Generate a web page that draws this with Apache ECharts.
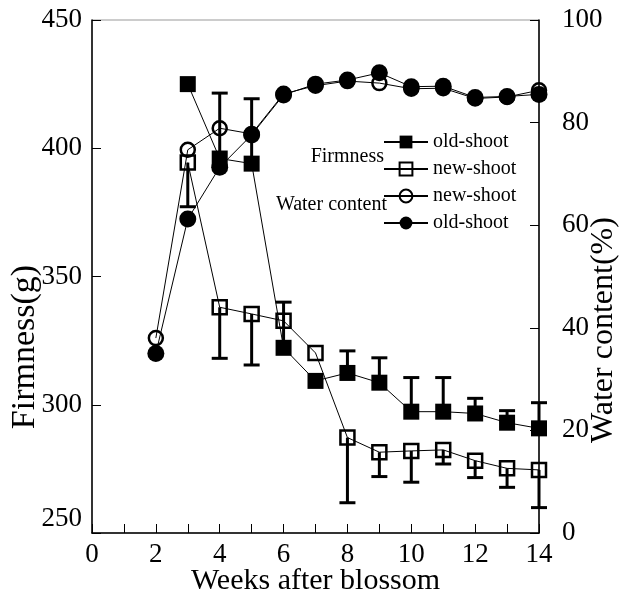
<!DOCTYPE html>
<html><head><meta charset="utf-8">
<script src="https://cdn.jsdelivr.net/npm/echarts@6/dist/echarts.min.js"></script>
<style>html,body{margin:0;padding:0;background:#fff}#c{width:624px;height:596px}</style>
</head><body><div id="c"></div>
<script>
// ---- data ----
const waterWeeks = [2, 3, 4, 5, 6, 7, 8, 9, 10, 11, 12, 13, 14];
const firmWeeks = [3, 4, 5, 6, 7, 8, 9, 10, 11, 12, 13, 14];
const firmOld = [425, 396, 394, 322.2, 309.3, 312.4, 308.6, 297.3, 297.3, 296.6, 293, 290.8];
const firmOldUpper = [null, 421.5, 419.3, 340, null, 321, 318.3, 310.6, 310.6, 302.5, 297.7, 300.8];
const firmNew = [394.4, 338, 335.4, 332.7, 320.2, 287.2, 281.5, 282, 282.4, 278.2, 275.2, 274.6];
const firmNewLower = [377.2, 318.1, 315.5, null, null, 261.8, 272, 269.8, 276.9, 271.6, 267.8, 259.9];
const waterNew = [38.0, 74.7, 78.9, 77.8, 85.6, 87.2, 88.1, 87.7, 86.6, 86.7, 84.7, 85.0, 86.3];
const waterOld = [35.0, 61.2, 71.3, 77.6, 85.4, 87.5, 88.3, 89.7, 87.0, 87.1, 84.9, 85.1, 85.5];
const xTicks = [0, 2, 4, 6, 8, 10, 12, 14];
const seriesNames = ['Firmness old-shoot', 'Firmness new-shoot', 'Water content new-shoot', 'Water content old-shoot'];

const FONT = '"Liberation Serif", "Times New Roman", serif';
const chart = echarts.init(document.getElementById('c'), null, {renderer: 'canvas'});

function pairs(xs, ys) { return xs.map((x, i) => [x, ys[i]]); }
function errData(xs, c, e) {
  const out = [];
  xs.forEach((x, i) => { if (e[i] != null) out.push([x, c[i], e[i]]); });
  return out;
}
function errSeries(data, yAxisIndex) {
  return {
    type: 'custom', yAxisIndex: yAxisIndex, data: data, z: 3,
    encode: {x: 0, y: [1, 2]},
    renderItem: function (params, api) {
      const p0 = api.coord([api.value(0), api.value(1)]);
      const p1 = api.coord([api.value(0), api.value(2)]);
      const hw = 8;
      return {type: 'group', children: [
        {type: 'line', shape: {x1: p0[0], y1: p0[1], x2: p1[0], y2: p1[1]}, style: {stroke: '#000', lineWidth: 3}},
        {type: 'line', shape: {x1: p1[0] - hw, y1: p1[1], x2: p1[0] + hw, y2: p1[1]}, style: {stroke: '#000', lineWidth: 3}}
      ]};
    }
  };
}
const hollow = {color: 'rgba(255,255,255,0)', borderColor: '#000', borderWidth: 2.5};
const solid = {color: '#000', borderColor: '#000', borderWidth: 0};
const lineSt = {color: '#000', width: 1};

chart.setOption({
  animation: false,
  backgroundColor: '#fff',
  grid: {left: 92, right: 85, top: 20, bottom: 63, outerBoundsMode: 'none', containLabel: false,
    show: true, borderColor: '#999', borderWidth: 1},
  xAxis: {
    type: 'value', min: 0, max: 14, interval: 1,
    name: 'Weeks after blossom', nameLocation: 'middle', nameGap: 33, nameMoveOverlap: false,
    nameTextStyle: {fontFamily: FONT, fontSize: 30, color: '#000'},
    axisLine: {lineStyle: {color: '#000', width: 1.5}},
    axisTick: {inside: true, length: 9, lineStyle: {color: '#000', width: 1}},
    axisLabel: {fontFamily: FONT, fontSize: 27, color: '#000', margin: 8,
      formatter: v => xTicks.indexOf(v) >= 0 ? String(v) : ''},
    splitLine: {show: false}
  },
  yAxis: [{
    type: 'value', min: 250, max: 450, interval: 50, position: 'left',
    axisLine: {show: true, lineStyle: {color: '#000', width: 1.5}},
    axisTick: {show: true, inside: true, length: 9, lineStyle: {color: '#000', width: 1}},
    axisLabel: {fontFamily: FONT, fontSize: 27, color: '#000', margin: 10,
      formatter: v => v === 250 ? '{lo|250}' : String(v),
      rich: {lo: {fontFamily: FONT, fontSize: 27, color: '#000', padding: [0, 0, 28, 0]}}},
    splitLine: {show: false}
  }, {
    type: 'value', min: 0, max: 100, interval: 20, position: 'right',
    axisLine: {show: true, lineStyle: {color: '#000', width: 1.5}},
    axisTick: {show: true, inside: true, length: 9, lineStyle: {color: '#000', width: 1}},
    axisLabel: {fontFamily: FONT, fontSize: 27, color: '#000', margin: 23},
    splitLine: {show: false}
  }],
  legend: {
    data: seriesNames, selectedMode: false, orient: 'vertical', padding: 0,
    left: 383, top: 132, itemWidth: 44, itemHeight: 16, itemGap: 7,
    textStyle: {fontFamily: FONT, fontSize: 20, color: '#000'},
    formatter: n => n.replace(/^(Firmness|Water content) /, '')
  },
  graphic: [
    {type: 'text', x: 384, y: 157, style: {text: 'Firmness', font: '20px ' + FONT, fill: '#000', align: 'right', verticalAlign: 'middle', textAlign: 'right', textVerticalAlign: 'middle'}},
    {type: 'text', x: 387, y: 205, style: {text: 'Water content', font: '20px ' + FONT, fill: '#000', align: 'right', verticalAlign: 'middle', textAlign: 'right', textVerticalAlign: 'middle'}},
    {type: 'text', x: 25, y: 347, rotation: Math.PI / 2, style: {text: 'Firmness(g)', font: '34px ' + FONT, fill: '#000', align: 'center', verticalAlign: 'middle', textAlign: 'center', textVerticalAlign: 'middle'}},
    {type: 'text', x: 604, y: 330, rotation: Math.PI / 2, style: {text: 'Water content(%)', font: '32px ' + FONT, fill: '#000', align: 'center', verticalAlign: 'middle', textAlign: 'center', textVerticalAlign: 'middle'}}
  ],
  series: [
    {name: seriesNames[0], type: 'line', yAxisIndex: 0, data: pairs(firmWeeks, firmOld),
      symbol: 'rect', symbolSize: 16, itemStyle: solid, lineStyle: lineSt, z: 4},
    {name: seriesNames[1], type: 'line', yAxisIndex: 0, data: pairs(firmWeeks, firmNew),
      symbol: 'rect', symbolSize: 14, itemStyle: hollow, lineStyle: lineSt, z: 4},
    {name: seriesNames[2], type: 'line', yAxisIndex: 1, data: pairs(waterWeeks, waterNew),
      symbol: 'circle', symbolSize: 14, itemStyle: hollow, lineStyle: lineSt, z: 4},
    {name: seriesNames[3], type: 'line', yAxisIndex: 1, data: pairs(waterWeeks, waterOld),
      symbol: 'circle', symbolSize: 17, itemStyle: solid, lineStyle: lineSt, z: 5},
    errSeries(errData(firmWeeks, firmOld, firmOldUpper), 0),
    errSeries(errData(firmWeeks, firmNew, firmNewLower), 0)
  ]
});
</script></body></html>
